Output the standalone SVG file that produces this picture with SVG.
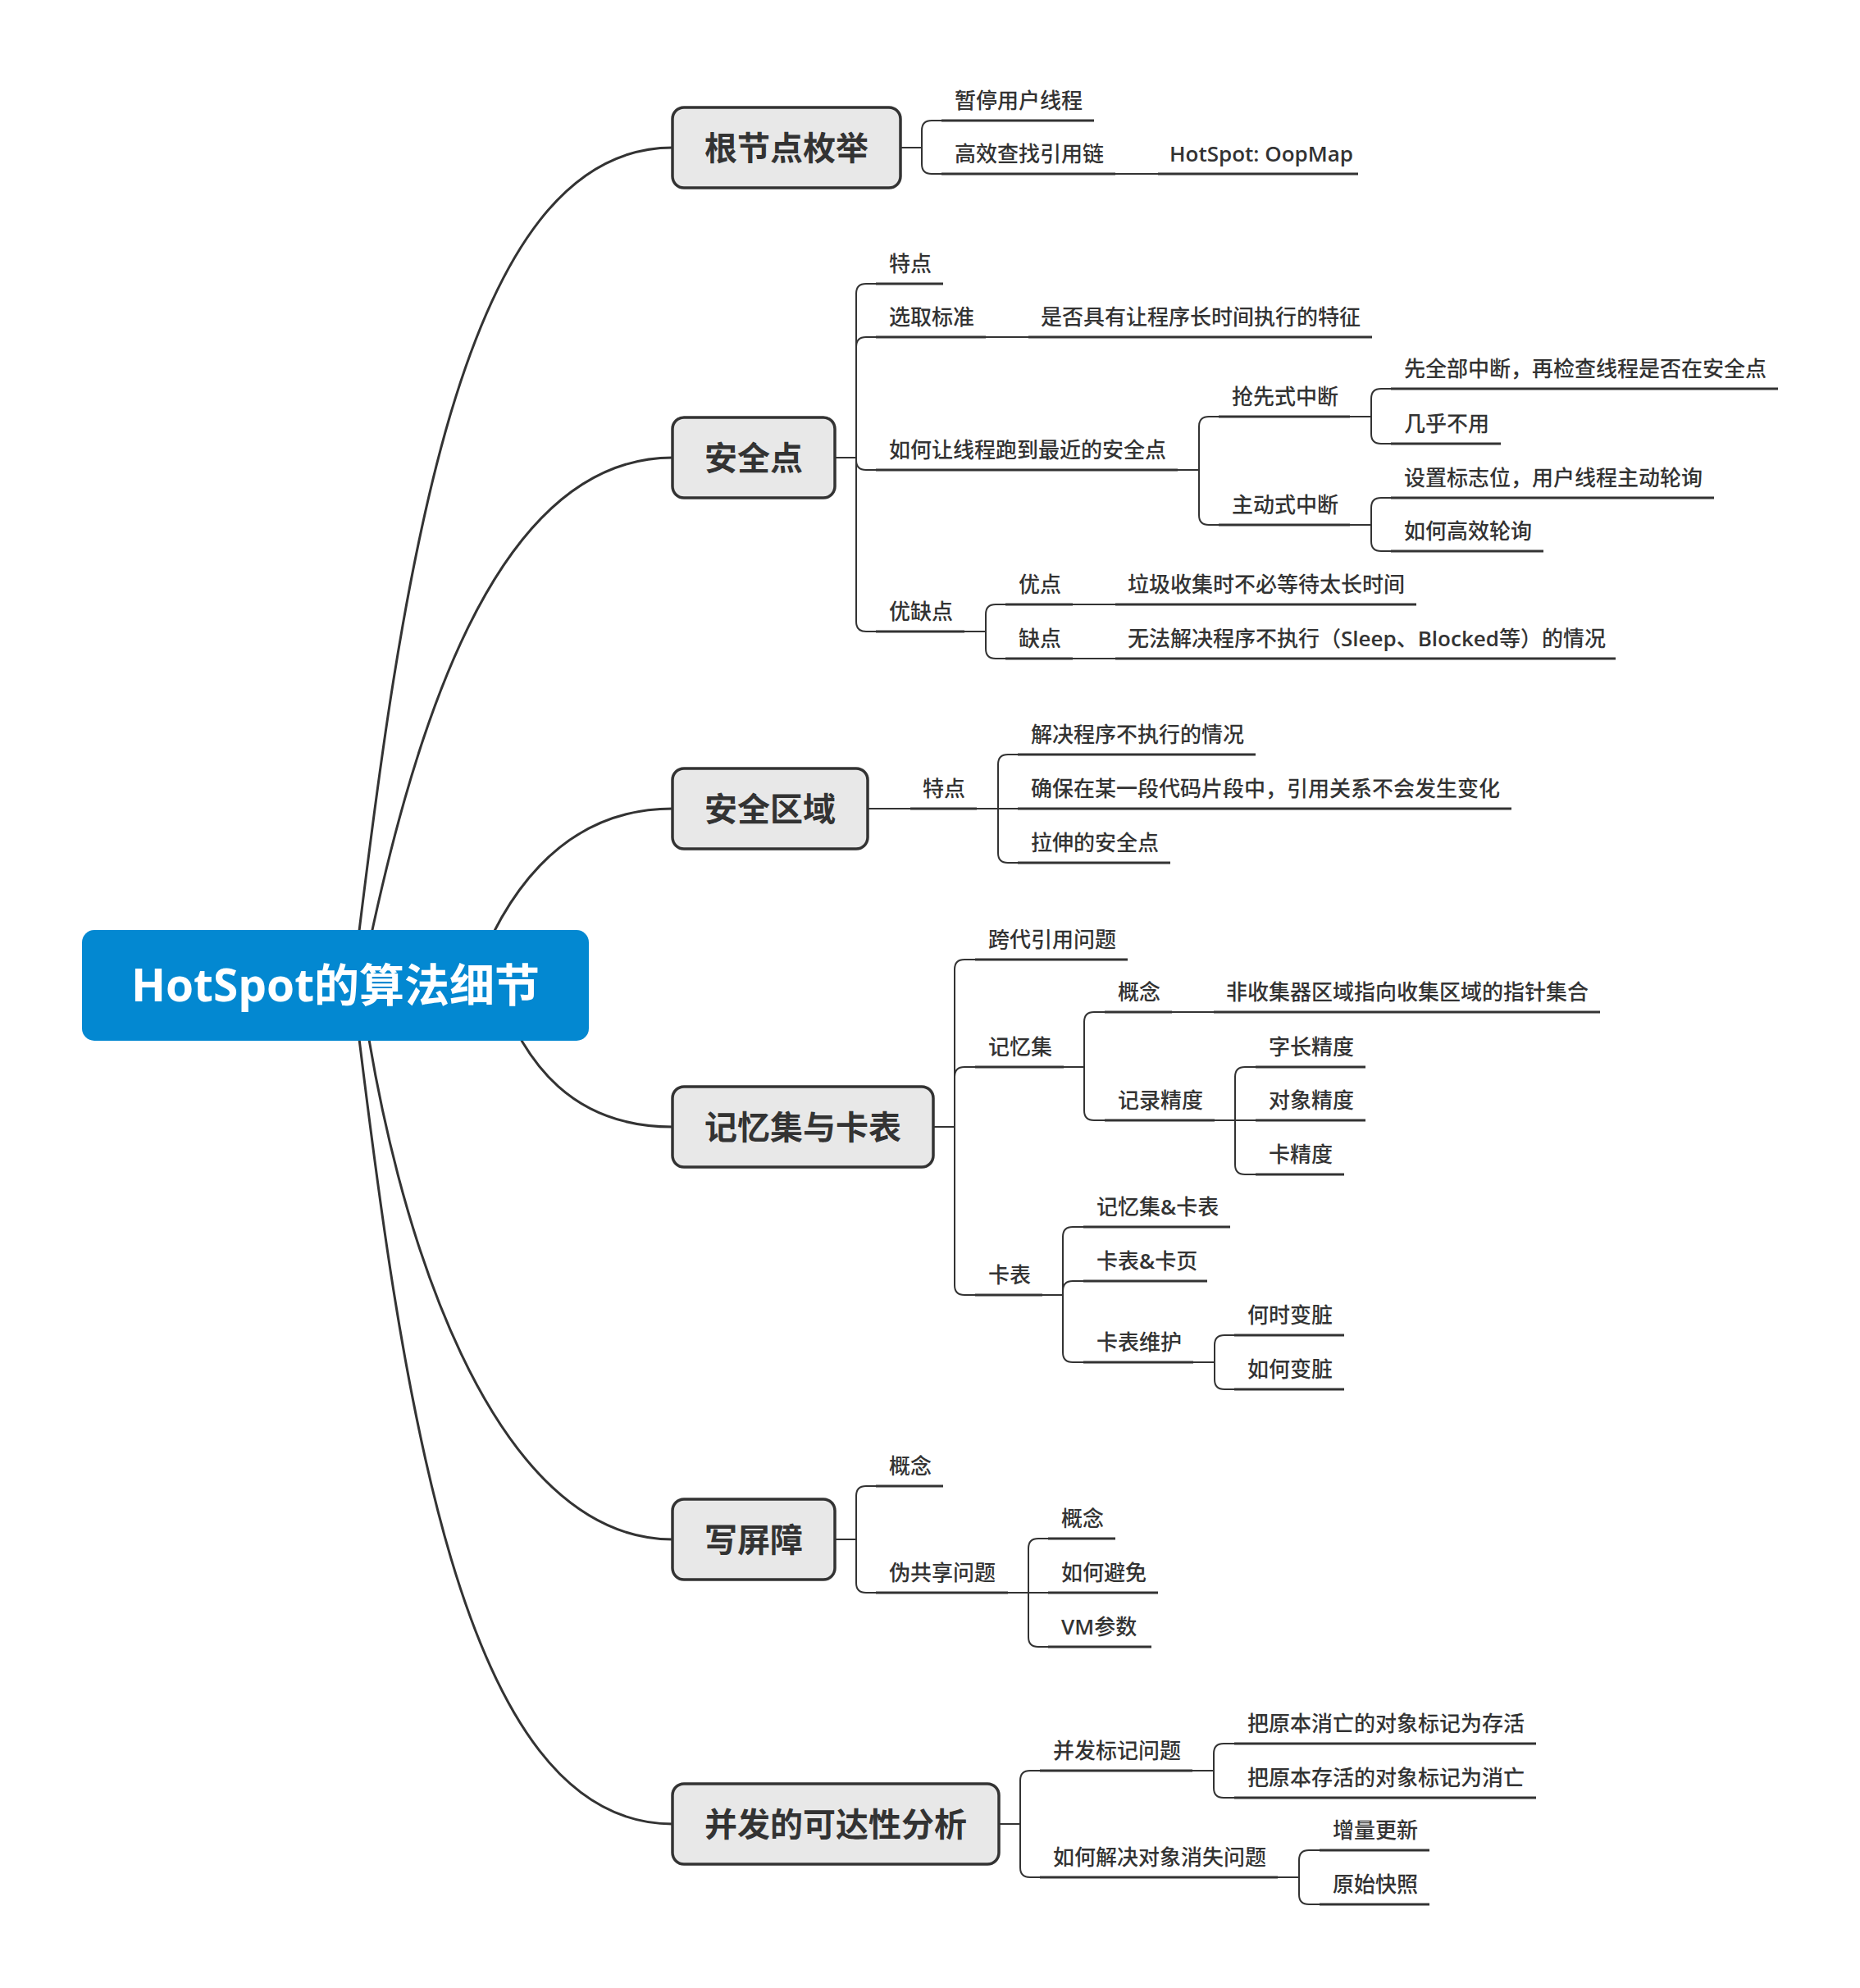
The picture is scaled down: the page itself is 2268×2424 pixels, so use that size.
<svg xmlns="http://www.w3.org/2000/svg" width="2268" height="2424" viewBox="0 0 2268 2424">
<style>
.bg{fill:#ffffff}
.curve{fill:none;stroke:#333333;stroke-width:3}
.cn{fill:none;stroke:#333333;stroke-width:2}
.ul{fill:none;stroke:#333333;stroke-width:3}
.box{fill:#e8e8e8;stroke:#333333;stroke-width:3.5}
.root{fill:#0388d1}
.t{font-family:'Open Sans','Noto Sans CJK SC',sans-serif;font-size:26px;font-weight:500;fill:#333333}
.lat{font-weight:600}
.bt{font-family:'Open Sans','Noto Sans CJK SC',sans-serif;font-size:40px;font-weight:700;fill:#333333;text-anchor:middle}
.rt{font-family:'Open Sans','Noto Sans CJK SC',sans-serif;font-size:55px;font-weight:700;fill:#ffffff;text-anchor:middle}
</style>
<rect class="bg" x="0" y="0" width="2268" height="2424"/>
<g id="connectors">
<path class="curve" d="M430,1201 C490,700 560,180 820,180"/>
<path class="curve" d="M440,1201 C500,900 600,558 820,558"/>
<path class="curve" d="M575,1201 C610,1100 680,986 820,986"/>
<path class="curve" d="M605,1201 C640,1300 700,1374 820,1374"/>
<path class="curve" d="M440,1201 C480,1500 600,1877 820,1877"/>
<path class="curve" d="M430,1201 C490,1702 560,2224 820,2224"/>
<path class="cn" d="M1098,180 H1124"/>
<path class="cn" d="M1124,180 V159 Q1124,147 1136,147 H1148"/>
<path class="cn" d="M1124,180 V200 Q1124,212 1136,212 H1148"/>
<path class="cn" d="M1360,212 H1412"/>
<path class="cn" d="M1019,558 H1044"/>
<path class="cn" d="M1044,558 V358 Q1044,346 1056,346 H1068"/>
<path class="cn" d="M1044,558 V423 Q1044,411 1056,411 H1068"/>
<path class="cn" d="M1202,411 H1254"/>
<path class="cn" d="M1044,558 V561 Q1044,573 1056,573 H1068"/>
<path class="cn" d="M1436,573 H1462"/>
<path class="cn" d="M1462,573 V520 Q1462,508 1474,508 H1486"/>
<path class="cn" d="M1646,508 H1672"/>
<path class="cn" d="M1672,508 V486 Q1672,474 1684,474 H1696"/>
<path class="cn" d="M1672,508 V529 Q1672,541 1684,541 H1696"/>
<path class="cn" d="M1462,573 V628 Q1462,640 1474,640 H1486"/>
<path class="cn" d="M1646,640 H1672"/>
<path class="cn" d="M1672,640 V619 Q1672,607 1684,607 H1696"/>
<path class="cn" d="M1672,640 V660 Q1672,672 1684,672 H1696"/>
<path class="cn" d="M1044,558 V758 Q1044,770 1056,770 H1068"/>
<path class="cn" d="M1176,770 H1202"/>
<path class="cn" d="M1202,770 V749 Q1202,737 1214,737 H1226"/>
<path class="cn" d="M1308,737 H1360"/>
<path class="cn" d="M1202,770 V791 Q1202,803 1214,803 H1226"/>
<path class="cn" d="M1308,803 H1360"/>
<path class="cn" d="M1058,986 H1110"/>
<path class="cn" d="M1191,986 H1217"/>
<path class="cn" d="M1217,986 V932 Q1217,920 1229,920 H1241"/>
<path class="cn" d="M1217,986 H1241"/>
<path class="cn" d="M1217,986 V1040 Q1217,1052 1229,1052 H1241"/>
<path class="cn" d="M1139,1374 H1164"/>
<path class="cn" d="M1164,1374 V1182 Q1164,1170 1176,1170 H1189"/>
<path class="cn" d="M1164,1374 V1313 Q1164,1301 1176,1301 H1189"/>
<path class="cn" d="M1297,1301 H1322"/>
<path class="cn" d="M1322,1301 V1246 Q1322,1234 1334,1234 H1347"/>
<path class="cn" d="M1429,1234 H1480"/>
<path class="cn" d="M1322,1301 V1354 Q1322,1366 1334,1366 H1347"/>
<path class="cn" d="M1481,1366 H1506"/>
<path class="cn" d="M1506,1366 V1313 Q1506,1301 1518,1301 H1531"/>
<path class="cn" d="M1506,1366 H1531"/>
<path class="cn" d="M1506,1366 V1420 Q1506,1432 1518,1432 H1531"/>
<path class="cn" d="M1164,1374 V1567 Q1164,1579 1176,1579 H1189"/>
<path class="cn" d="M1271,1579 H1296"/>
<path class="cn" d="M1296,1579 V1508 Q1296,1496 1308,1496 H1321"/>
<path class="cn" d="M1296,1579 V1574 Q1296,1562 1308,1562 H1321"/>
<path class="cn" d="M1296,1579 V1649 Q1296,1661 1308,1661 H1321"/>
<path class="cn" d="M1455,1661 H1481"/>
<path class="cn" d="M1481,1661 V1640 Q1481,1628 1493,1628 H1505"/>
<path class="cn" d="M1481,1661 V1682 Q1481,1694 1493,1694 H1505"/>
<path class="cn" d="M1018,1877 H1044"/>
<path class="cn" d="M1044,1877 V1824 Q1044,1812 1056,1812 H1068"/>
<path class="cn" d="M1044,1877 V1930 Q1044,1942 1056,1942 H1068"/>
<path class="cn" d="M1229,1942 H1254"/>
<path class="cn" d="M1254,1942 V1888 Q1254,1876 1266,1876 H1278"/>
<path class="cn" d="M1254,1942 H1278"/>
<path class="cn" d="M1254,1942 V1996 Q1254,2008 1266,2008 H1278"/>
<path class="cn" d="M1218,2224 H1244"/>
<path class="cn" d="M1244,2224 V2171 Q1244,2159 1256,2159 H1268"/>
<path class="cn" d="M1454,2159 H1480"/>
<path class="cn" d="M1480,2159 V2138 Q1480,2126 1492,2126 H1505"/>
<path class="cn" d="M1480,2159 V2180 Q1480,2192 1492,2192 H1505"/>
<path class="cn" d="M1244,2224 V2277 Q1244,2289 1256,2289 H1268"/>
<path class="cn" d="M1558,2289 H1584"/>
<path class="cn" d="M1584,2289 V2268 Q1584,2256 1596,2256 H1609"/>
<path class="cn" d="M1584,2289 V2310 Q1584,2322 1596,2322 H1609"/>
</g>
<g id="root">
<rect class="root" x="100" y="1134" width="618" height="135" rx="15"/>
<text class="rt" x="409" y="1221">HotSpot的算法细节</text>
</g>
<g id="b1">
<rect class="box" x="820" y="131" width="278" height="98" rx="14"/>
<text class="bt" x="959" y="195">根节点枚举</text>
</g>
<g id="b2">
<rect class="box" x="820" y="509" width="198" height="98" rx="14"/>
<text class="bt" x="919" y="573">安全点</text>
</g>
<g id="b3">
<rect class="box" x="820" y="937" width="238" height="98" rx="14"/>
<text class="bt" x="939" y="1001">安全区域</text>
</g>
<g id="b4">
<rect class="box" x="820" y="1325" width="318" height="98" rx="14"/>
<text class="bt" x="979" y="1389">记忆集与卡表</text>
</g>
<g id="b5">
<rect class="box" x="820" y="1828" width="198" height="98" rx="14"/>
<text class="bt" x="919" y="1892">写屏障</text>
</g>
<g id="b6">
<rect class="box" x="820" y="2175" width="398" height="98" rx="14"/>
<text class="bt" x="1019" y="2239">并发的可达性分析</text>
</g>
<g id="n1-1"><text class="t" x="1164" y="132">暂停用户线程</text><path class="ul" d="M1148,147 H1334"/></g>
<g id="n1-2"><text class="t" x="1164" y="197">高效查找引用链</text><path class="ul" d="M1148,212 H1360"/></g>
<g id="n1-2-1"><text class="t" x="1426" y="197"><tspan class="lat">HotSpot: OopMap</tspan></text><path class="ul" d="M1412,212 H1656"/></g>
<g id="n2-1"><text class="t" x="1084" y="331">特点</text><path class="ul" d="M1068,346 H1150"/></g>
<g id="n2-2"><text class="t" x="1084" y="396">选取标准</text><path class="ul" d="M1068,411 H1202"/></g>
<g id="n2-2-1"><text class="t" x="1269" y="396">是否具有让程序长时间执行的特征</text><path class="ul" d="M1254,411 H1673"/></g>
<g id="n2-3"><text class="t" x="1084" y="558">如何让线程跑到最近的安全点</text><path class="ul" d="M1068,573 H1436"/></g>
<g id="n2-3-1"><text class="t" x="1502" y="493">抢先式中断</text><path class="ul" d="M1486,508 H1646"/></g>
<g id="n2-3-1-1"><text class="t" x="1712" y="459">先全部中断，再检查线程是否在安全点</text><path class="ul" d="M1696,474 H2168"/></g>
<g id="n2-3-1-2"><text class="t" x="1712" y="526">几乎不用</text><path class="ul" d="M1696,541 H1830"/></g>
<g id="n2-3-2"><text class="t" x="1502" y="625">主动式中断</text><path class="ul" d="M1486,640 H1646"/></g>
<g id="n2-3-2-1"><text class="t" x="1712" y="592">设置标志位，用户线程主动轮询</text><path class="ul" d="M1696,607 H2090"/></g>
<g id="n2-3-2-2"><text class="t" x="1712" y="657">如何高效轮询</text><path class="ul" d="M1696,672 H1882"/></g>
<g id="n2-4"><text class="t" x="1084" y="755">优缺点</text><path class="ul" d="M1068,770 H1176"/></g>
<g id="n2-4-1"><text class="t" x="1242" y="722">优点</text><path class="ul" d="M1226,737 H1308"/></g>
<g id="n2-4-1-1"><text class="t" x="1375" y="722">垃圾收集时不必等待太长时间</text><path class="ul" d="M1360,737 H1727"/></g>
<g id="n2-4-2"><text class="t" x="1242" y="788">缺点</text><path class="ul" d="M1226,803 H1308"/></g>
<g id="n2-4-2-1"><text class="t" x="1375" y="788">无法解决程序不执行（<tspan class="lat">Sleep</tspan>、<tspan class="lat">Blocked</tspan>等）的情况</text><path class="ul" d="M1360,803 H1970"/></g>
<g id="n3-1"><text class="t" x="1125" y="971">特点</text><path class="ul" d="M1110,986 H1191"/></g>
<g id="n3-1-1"><text class="t" x="1257" y="905">解决程序不执行的情况</text><path class="ul" d="M1241,920 H1531"/></g>
<g id="n3-1-2"><text class="t" x="1257" y="971">确保在某一段代码片段中，引用关系不会发生变化</text><path class="ul" d="M1241,986 H1843"/></g>
<g id="n3-1-3"><text class="t" x="1257" y="1037">拉伸的安全点</text><path class="ul" d="M1241,1052 H1427"/></g>
<g id="n4-1"><text class="t" x="1205" y="1155">跨代引用问题</text><path class="ul" d="M1189,1170 H1375"/></g>
<g id="n4-2"><text class="t" x="1205" y="1286">记忆集</text><path class="ul" d="M1189,1301 H1297"/></g>
<g id="n4-2-1"><text class="t" x="1363" y="1219">概念</text><path class="ul" d="M1347,1234 H1429"/></g>
<g id="n4-2-1-1"><text class="t" x="1495" y="1219">非收集器区域指向收集区域的指针集合</text><path class="ul" d="M1480,1234 H1951"/></g>
<g id="n4-2-2"><text class="t" x="1363" y="1351">记录精度</text><path class="ul" d="M1347,1366 H1481"/></g>
<g id="n4-2-2-1"><text class="t" x="1547" y="1286">字长精度</text><path class="ul" d="M1531,1301 H1665"/></g>
<g id="n4-2-2-2"><text class="t" x="1547" y="1351">对象精度</text><path class="ul" d="M1531,1366 H1665"/></g>
<g id="n4-2-2-3"><text class="t" x="1547" y="1417">卡精度</text><path class="ul" d="M1531,1432 H1639"/></g>
<g id="n4-3"><text class="t" x="1205" y="1564">卡表</text><path class="ul" d="M1189,1579 H1271"/></g>
<g id="n4-3-1"><text class="t" x="1337" y="1481">记忆集<tspan class="lat">&amp;</tspan>卡表</text><path class="ul" d="M1321,1496 H1500"/></g>
<g id="n4-3-2"><text class="t" x="1337" y="1547">卡表<tspan class="lat">&amp;</tspan>卡页</text><path class="ul" d="M1321,1562 H1472"/></g>
<g id="n4-3-3"><text class="t" x="1337" y="1646">卡表维护</text><path class="ul" d="M1321,1661 H1455"/></g>
<g id="n4-3-3-1"><text class="t" x="1521" y="1613">何时变脏</text><path class="ul" d="M1505,1628 H1639"/></g>
<g id="n4-3-3-2"><text class="t" x="1521" y="1679">如何变脏</text><path class="ul" d="M1505,1694 H1639"/></g>
<g id="n5-1"><text class="t" x="1084" y="1797">概念</text><path class="ul" d="M1068,1812 H1150"/></g>
<g id="n5-2"><text class="t" x="1084" y="1927">伪共享问题</text><path class="ul" d="M1068,1942 H1229"/></g>
<g id="n5-2-1"><text class="t" x="1294" y="1861">概念</text><path class="ul" d="M1278,1876 H1360"/></g>
<g id="n5-2-2"><text class="t" x="1294" y="1927">如何避免</text><path class="ul" d="M1278,1942 H1412"/></g>
<g id="n5-2-3"><text class="t" x="1294" y="1993"><tspan class="lat">VM</tspan>参数</text><path class="ul" d="M1278,2008 H1404"/></g>
<g id="n6-1"><text class="t" x="1284" y="2144">并发标记问题</text><path class="ul" d="M1268,2159 H1454"/></g>
<g id="n6-1-1"><text class="t" x="1521" y="2111">把原本消亡的对象标记为存活</text><path class="ul" d="M1505,2126 H1873"/></g>
<g id="n6-1-2"><text class="t" x="1521" y="2177">把原本存活的对象标记为消亡</text><path class="ul" d="M1505,2192 H1873"/></g>
<g id="n6-2"><text class="t" x="1284" y="2274">如何解决对象消失问题</text><path class="ul" d="M1268,2289 H1558"/></g>
<g id="n6-2-1"><text class="t" x="1625" y="2241">增量更新</text><path class="ul" d="M1609,2256 H1743"/></g>
<g id="n6-2-2"><text class="t" x="1625" y="2307">原始快照</text><path class="ul" d="M1609,2322 H1743"/></g>
</svg>
